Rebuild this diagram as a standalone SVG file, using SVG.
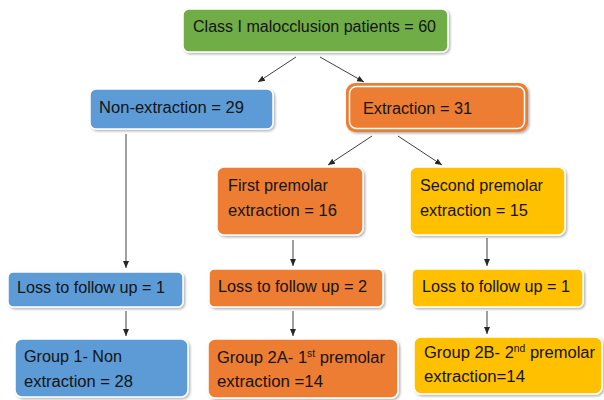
<svg xmlns="http://www.w3.org/2000/svg" width="604" height="400" viewBox="0 0 604 400">
<style>
  .box { stroke: #ffffff; stroke-width: 1.5; filter: url(#sh); }
  .green { fill: #70AD47; }
  .blue { fill: #5B9BD5; }
  .orange { fill: #ED7D31; }
  .yellow { fill: #FFC000; }
  text { font-family: "Liberation Sans", Arial, sans-serif; font-size: 16px; fill: #141414; }
  .sup { font-size: 10px; }
  .conn line { stroke: #404040; stroke-width: 1; marker-end: url(#ah); }
</style>
<defs>
  <filter id="sh" x="-10%" y="-10%" width="125%" height="130%">
    <feDropShadow dx="1.5" dy="1.5" stdDeviation="1" flood-color="#000" flood-opacity="0.3"/>
  </filter>
  <marker id="ah" markerUnits="userSpaceOnUse" markerWidth="8" markerHeight="8" refX="7" refY="4" orient="auto">
    <path d="M0,1 L7,4 L0,7 Z" fill="#262626"/>
  </marker>
</defs>
<rect width="604" height="400" fill="#ffffff"/>

<g id="connectors" class="conn">
  <line x1="296" y1="57" x2="258" y2="82"/>
  <line x1="320" y1="57" x2="364" y2="82"/>
  <line x1="372" y1="136" x2="328" y2="165"/>
  <line x1="398" y1="136" x2="442" y2="165"/>
  <line x1="126" y1="134" x2="126" y2="268"/>
  <line x1="126" y1="311" x2="126" y2="336"/>
  <line x1="293" y1="240" x2="293" y2="266"/>
  <line x1="293" y1="311" x2="293" y2="336"/>
  <line x1="487" y1="238" x2="487" y2="266"/>
  <line x1="487" y1="311" x2="487" y2="334"/>
</g>

<g id="n-top">
  <rect class="box green" x="183" y="9" width="265" height="43" rx="6"/>
  <text x="193" y="32" textLength="243" lengthAdjust="spacingAndGlyphs">Class I malocclusion patients = 60</text>
</g>

<g id="n-nonext">
  <rect class="box blue" x="90" y="89" width="183" height="40" rx="6"/>
  <text x="99" y="113" textLength="145" lengthAdjust="spacingAndGlyphs">Non-extraction = 29</text>
</g>

<g id="n-ext">
  <rect class="orange" x="346" y="83" width="182" height="49" rx="9" filter="url(#sh)"/>
  <rect x="349.5" y="86.5" width="175" height="42" rx="7" fill="none" stroke="#ffffff" stroke-width="1.5"/>
  <text x="363" y="114" textLength="109" lengthAdjust="spacingAndGlyphs">Extraction = 31</text>
</g>

<g id="n-first">
  <rect class="box orange" x="217" y="167" width="146" height="68" rx="7"/>
  <text x="228" y="191" textLength="100" lengthAdjust="spacingAndGlyphs">First premolar</text>
  <text x="228" y="216" textLength="109" lengthAdjust="spacingAndGlyphs">extraction = 16</text>
</g>

<g id="n-second">
  <rect class="box yellow" x="410" y="167" width="155" height="68" rx="7"/>
  <text x="420" y="191" textLength="123" lengthAdjust="spacingAndGlyphs">Second premolar</text>
  <text x="420" y="216" textLength="108" lengthAdjust="spacingAndGlyphs">extraction = 15</text>
</g>

<g id="n-loss1">
  <rect class="box blue" x="8" y="272" width="175" height="35" rx="5"/>
  <text x="17" y="293" textLength="148" lengthAdjust="spacingAndGlyphs">Loss to follow up = 1</text>
</g>

<g id="n-loss2">
  <rect class="box orange" x="209" y="269" width="174" height="38" rx="5"/>
  <text x="218" y="292" textLength="149" lengthAdjust="spacingAndGlyphs">Loss to follow up = 2</text>
</g>

<g id="n-loss3">
  <rect class="box yellow" x="412" y="269" width="171" height="38" rx="5"/>
  <text x="422" y="292" textLength="148" lengthAdjust="spacingAndGlyphs">Loss to follow up = 1</text>
</g>

<g id="n-group1">
  <rect class="box blue" x="15" y="339" width="173" height="58" rx="7"/>
  <text x="24" y="362" textLength="98" lengthAdjust="spacingAndGlyphs">Group 1- Non</text>
  <text x="24" y="387" textLength="109" lengthAdjust="spacingAndGlyphs">extraction = 28</text>
</g>

<g id="n-group2a">
  <rect class="box orange" x="208" y="339" width="190" height="59" rx="7"/>
  <text x="217" y="363" textLength="168" lengthAdjust="spacingAndGlyphs">Group 2A- 1<tspan class="sup" dy="-6">st</tspan><tspan dy="6"> premolar</tspan></text>
  <text x="217" y="387" textLength="106" lengthAdjust="spacingAndGlyphs">extraction =14</text>
</g>

<g id="n-group2b">
  <rect class="box yellow" x="414" y="337" width="188" height="57" rx="7"/>
  <text x="424" y="358" textLength="171" lengthAdjust="spacingAndGlyphs">Group 2B- 2<tspan class="sup" dy="-6">nd</tspan><tspan dy="6"> premolar</tspan></text>
  <text x="424" y="382" textLength="101" lengthAdjust="spacingAndGlyphs">extraction=14</text>
</g>
</svg>
